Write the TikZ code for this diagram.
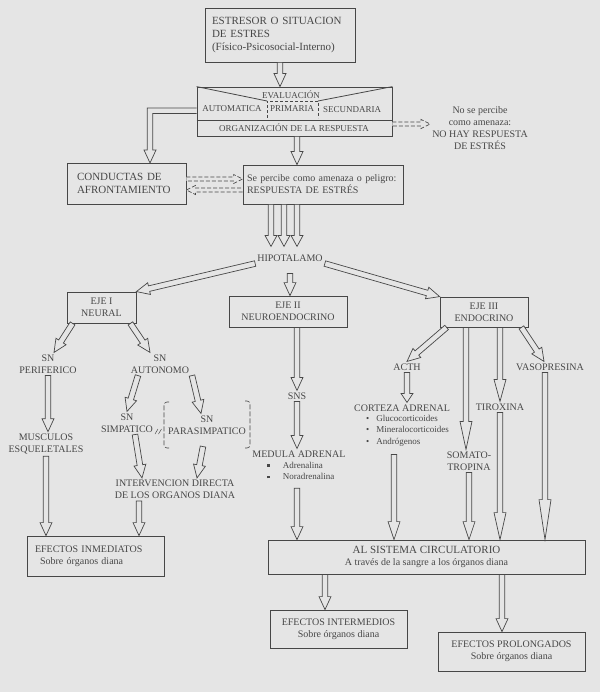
\documentclass[tikz,border=0pt]{standalone}
\usepackage{fontspec}
\setmainfont{Liberation Serif}
\usetikzlibrary{calc}
\definecolor{ink}{gray}{0.28}
\definecolor{paper}{gray}{0.9}
\newcommand{\lbl}{\fontsize{10}{12}\selectfont}
\newcommand{\sml}{\fontsize{9}{11.5}\selectfont}
\newcommand{\lrg}{\fontsize{11}{13}\selectfont}
\newcommand{\sqb}{\raisebox{1.5pt}{\rule{2.6pt}{2.6pt}}}
\newcommand{\harrow}[3][13pt]{%
  \path (#2) coordinate (ha) (#3) coordinate (hb);
  \coordinate (hh) at ($(hb)!#1!(ha)$);
  \draw[arrowline] ($(ha)!2.8pt!90:(hb)$) -- ($(hh)!2.8pt!-90:(ha)$)
    -- ($(hh)!6pt!-90:(ha)$) -- (hb) -- ($(hh)!6pt!90:(ha)$)
    -- ($(hh)!2.8pt!90:(ha)$) -- ($(ha)!2.8pt!-90:(hb)$) -- cycle;}
\newcommand{\darrow}[2]{%
  \path (#1) coordinate (ha) (#2) coordinate (hb);
  \coordinate (hh) at ($(hb)!9pt!(ha)$);
  \draw[arrowline,dash pattern=on 4pt off 2pt] ($(ha)!2pt!90:(hb)$) -- ($(hh)!2pt!-90:(ha)$)
    -- ($(hh)!4.5pt!-90:(ha)$) -- (hb) -- ($(hh)!4.5pt!90:(ha)$)
    -- ($(hh)!2pt!90:(ha)$) -- ($(ha)!2pt!-90:(hb)$);}

\begin{document}
\begin{tikzpicture}[x=1pt,y=-1pt,
    box/.style={draw=ink, line width=0.8pt, text=ink, font=\lbl, inner sep=0pt},
    txt/.style={text=ink, font=\lbl, align=center, inner sep=2pt},
    arrowline/.style={draw=ink, line width=0.7pt, fill=paper, line join=miter}]
  \fill[paper] (0,0) rectangle (600,692);
  \useasboundingbox (0,0) rectangle (600,692);

  \node[box, font=\lrg, minimum width=150pt, minimum height=54pt, text width=136pt, align=left] (estresor) at (280,35)
    {ESTRESOR O SITUACION\\ DE ESTRES\\ (Físico-Psicosocial-Interno)};

  \node[box, minimum width=195pt, minimum height=49pt] (evalb) at (294.5,111.5) {};
  \draw[ink, line width=0.8pt] (evalb.north west) -- (267,101) (318,101) -- (evalb.north east);
  \draw[ink, line width=0.8pt] (evalb.west |- 0,120) -- (evalb.east |- 0,120);
  \draw[ink, line width=0.6pt, dash pattern=on 3pt off 2pt] (267,118) -- (267,101) -- (318,101) -- (318,118);
  \node[txt, font=\sml] (evaluacion) at (291,95) {EVALUACIÓN};
  \node[txt, font=\sml] (automatica) at (232,109) {AUTOMATICA};
  \node[txt, font=\sml] (primaria) at (292,109) {PRIMARIA};
  \node[txt, font=\sml] (secundaria) at (352,110) {SECUNDARIA};
  \node[txt, font=\sml] (organiz) at (294,128) {ORGANIZACIÓN DE LA RESPUESTA};

  \node[box, font=\lrg, minimum width=119pt, minimum height=41pt, text width=99pt, inner xsep=10pt, align=left] (conductas) at (126.5,183.5)
    {CONDUCTAS DE\\ AFRONTAMIENTO};
  \node[box, minimum width=160pt, minimum height=39pt, text width=152pt, inner xsep=4pt, align=left] (sepercibe) at (323,184.5)
    {Se percibe como amenaza o peligro:\\ RESPUESTA DE ESTRÉS};
  \node[txt] (nohay) at (480,128) {No se percibe\\ como amenaza:\\ NO HAY RESPUESTA\\ DE ESTRÉS};

  \node[txt] (hipo) at (290,258) {HIPOTALAMO};
  \node[box, minimum width=69pt, minimum height=31pt, align=center] (eje1) at (101.5,307.5) {EJE I\\ NEURAL};
  \node[box, minimum width=118pt, minimum height=31pt, align=center] (eje2) at (288,311.5) {EJE II\\ NEUROENDOCRINO};
  \node[box, minimum width=88pt, minimum height=30pt, align=center] (eje3) at (484,312) {EJE III\\ ENDOCRINO};

  \node[txt] (snperif) at (48,364) {SN\\ PERIFERICO};
  \node[txt] (snauto) at (160,364) {SN\\ AUTONOMO};
  \node[txt] (musculos) at (46,444) {MUSCULOS\\ ESQUELETALES};
  \node[txt] (snsimp) at (127,423) {SN\\ SIMPATICO};
  \node[txt] (snpara) at (207,425) {SN\\ PARASIMPATICO};
  \node[txt] (interv) at (175,489.5) {INTERVENCION DIRECTA\\ DE LOS ORGANOS DIANA};
  \node[box, minimum width=137pt, minimum height=40pt, text width=121pt, inner xsep=8pt, align=left] (efinm) at (95.5,556)
    {EFECTOS INMEDIATOS\\ \hspace*{5pt}Sobre órganos diana};
  \draw[ink, line width=0.6pt, dash pattern=on 5pt off 2pt, rounded corners=3pt] (169,402) -- (164,402) -- (164,448) -- (169,448);
  \draw[ink, line width=0.6pt, dash pattern=on 5pt off 2pt, rounded corners=3pt] (245,401) -- (250,401) -- (250,448) -- (245,448);
  \draw[ink, line width=0.5pt] (155,434) -- (158,429) (158.5,434) -- (161.5,429);

  \node[txt] (sns) at (297,396) {SNS};
  \node[txt] (medula) at (299,454) {MEDULA ADRENAL};
  \node[txt, font=\sml, align=left, anchor=north west, inner sep=0pt] (medlist) at (267,462)
    {\sqb\hspace{13pt}Adrenalina\\ \sqb\hspace{13pt}Noradrenalina};

  \node[txt] (acth) at (407,367) {ACTH};
  \node[txt] (corteza) at (402,408) {CORTEZA ADRENAL};
  \node[txt, font=\sml, align=left, anchor=north west, inner sep=0pt] (cortlist) at (366,415)
    {\textbullet\hspace{7pt}Glucocorticoides\\ \textbullet\hspace{7pt}Mineralocorticoides\\ \textbullet\hspace{7pt}Andrógenos};
  \node[txt] (somato) at (469,461) {SOMATO-\\ TROPINA};
  \node[txt] (tirox) at (500,407) {TIROXINA};
  \node[txt] (vaso) at (550,367) {VASOPRESINA};

  \node[box, minimum width=317pt, minimum height=34pt, align=center] (alsist) at (426.5,557)
    {{\lrg AL SISTEMA CIRCULATORIO}\\ A través de la sangre a los órganos diana};
  \node[box, minimum width=137pt, minimum height=38pt, align=center] (efint) at (338.5,629)
    {EFECTOS INTERMEDIOS\\ Sobre órganos diana};
  \node[box, minimum width=147pt, minimum height=39pt, align=center] (efprol) at (511.5,651.5)
    {EFECTOS PROLONGADOS\\ Sobre órganos diana};

  \harrow{estresor.south}{estresor.south |- evalb.north}
  \coordinate (ev) at ([xshift=2.5pt]evalb.south);
  \harrow{ev}{ev |- sepercibe.north}
  \draw[arrowline] (evalb.west |- 0,108) -- (147.2,108) -- (147.2,150) -- (144,150) -- (150,163)
    -- (156,150) -- (152.8,150) -- (152.8,113.6) -- (evalb.west |- 0,113.6);
  \coordinate (nd) at ([yshift=-12.5pt]evalb.east);
  \darrow{nd}{nd -| nohay.west}
  \coordinate (cu) at ([yshift=4.5pt]conductas.east);
  \coordinate (cd) at ([yshift=-6.5pt]conductas.east);
  \darrow{cu}{cu -| sepercibe.west}
  \darrow{cd -| sepercibe.west}{cd}

  \coordinate (ht) at ([yshift=6pt]hipo.north);
  \foreach \dx in {-52,-39,-26} {
    \coordinate (hs) at ([xshift=\dx pt]sepercibe.south);
    \harrow[11pt]{hs}{hs |- ht}
  }
  \harrow{hipo.south west}{eje1.north east}
  \coordinate (h2) at ([yshift=-10pt]hipo.south);
  \harrow{h2}{h2 |- eje2.north}
  \harrow{hipo.south east}{eje3.north west}

  \harrow{[xshift=6pt]eje1.south west}{[xshift=6pt]snperif.north}
  \harrow{[xshift=-6pt]eje1.south east}{[xshift=-10pt]snauto.north}
  \harrow{snperif.south}{snperif.south |- musculos.north}
  \harrow{[xshift=-22pt]snauto.south}{snsimp.north}
  \harrow{[xshift=32pt]snauto.south}{[xshift=-6pt]snpara.north}
  \harrow{[xshift=8pt]snsimp.south}{[xshift=-33pt]interv.north}
  \coordinate (ps) at ([xshift=-4pt,yshift=-10pt]snpara.south);
  \harrow{ps}{[xshift=22pt]interv.north}
  \coordinate (is) at ([xshift=-36pt]interv.south);
  \harrow{is}{is |- efinm.north}
  \harrow{musculos.south}{musculos.south |- efinm.north}

  \harrow{sns.north |- eje2.south}{sns.north}
  \harrow{sns.south}{sns.south |- medula.north}
  \coordinate (ml) at ([yshift=-8pt]medlist.south -| sns.south);
  \harrow{ml}{ml |- alsist.north}

  \harrow{[xshift=7pt]eje3.south west}{acth.north}
  \harrow[9pt]{acth.south}{acth.south |- corteza.north}
  \coordinate (cl) at ($(cortlist.south -| 394,0)+(0,8)$);
  \harrow[18pt]{cl}{cl |- alsist.north}
  \coordinate (s1) at ([xshift=-3pt]somato.north);
  \harrow[28pt]{s1 |- eje3.south}{s1}
  \harrow[18pt]{somato.south}{somato.south |- alsist.north}
  \harrow[22pt]{tirox.north |- eje3.south}{tirox.north}
  \harrow[27pt]{tirox.south}{tirox.south |- alsist.north}
  \harrow{[xshift=-7pt]eje3.south east}{[xshift=-6pt]vaso.north}
  \coordinate (v1) at ([xshift=-5pt]vaso.south);
  \harrow[40pt]{v1}{v1 |- alsist.north}

  \coordinate (a1) at ([xshift=-13.5pt]efint.north);
  \harrow{a1 |- alsist.south}{a1}
  \coordinate (a2) at ([xshift=-9.5pt]efprol.north);
  \harrow{a2 |- alsist.south}{a2}
\end{tikzpicture}
\end{document}
